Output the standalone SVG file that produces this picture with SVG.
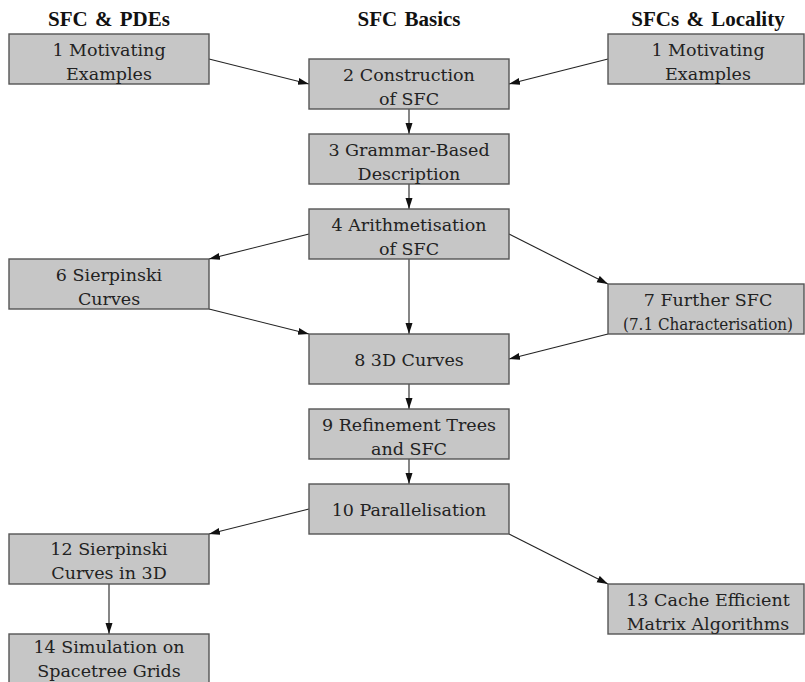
<svg xmlns="http://www.w3.org/2000/svg" width="805" height="682" viewBox="0 0 805 682">
<defs>
<style>
.box{fill:#c6c6c6;stroke:#555;stroke-width:1.4}
.lbl{font-family:"DejaVu Serif",serif;font-size:17.5px;fill:#222;text-anchor:middle}
.hdr{font-family:"Liberation Serif",serif;font-size:21px;font-weight:bold;fill:#111;text-anchor:middle;word-spacing:2px}
.e{stroke:#222;stroke-width:1.1;fill:none;marker-end:url(#arr)}
</style>
<marker id="arr" markerUnits="userSpaceOnUse" markerWidth="12" markerHeight="10" refX="11" refY="4" orient="auto">
<path d="M0,0.5 L11,4 L0,7.5 Z" fill="#111"/>
</marker>
</defs>
<rect width="805" height="682" fill="#fff"/>
<g id="headers">
<text class="hdr" x="109" y="26">SFC &amp; PDEs</text>
<text class="hdr" x="409" y="26">SFC Basics</text>
<text class="hdr" x="708" y="26">SFCs &amp; Locality</text>
</g>
<g id="edges">
<line class="e" x1="209" y1="59" x2="309" y2="84"/>
<line class="e" x1="608" y1="59" x2="509" y2="84"/>
<line class="e" x1="409" y1="109" x2="409" y2="134"/>
<line class="e" x1="409" y1="184" x2="409" y2="209"/>
<line class="e" x1="309" y1="234" x2="209" y2="259"/>
<line class="e" x1="509" y1="234" x2="608" y2="284"/>
<line class="e" x1="409" y1="259" x2="409" y2="334"/>
<line class="e" x1="209" y1="309" x2="309" y2="334"/>
<line class="e" x1="608" y1="334" x2="509" y2="359"/>
<line class="e" x1="409" y1="384" x2="409" y2="409"/>
<line class="e" x1="409" y1="459" x2="409" y2="484"/>
<line class="e" x1="309" y1="509" x2="209" y2="534"/>
<line class="e" x1="509" y1="534" x2="608" y2="584"/>
<line class="e" x1="109" y1="584" x2="109" y2="634"/>
</g>
<g id="n1a"><rect class="box" x="9" y="34" width="200" height="50"/><text class="lbl" x="109" y="56">1 Motivating</text><text class="lbl" x="109" y="80">Examples</text></g>
<g id="n1b"><rect class="box" x="608" y="34" width="196" height="50"/><text class="lbl" x="708" y="56">1 Motivating</text><text class="lbl" x="708" y="80">Examples</text></g>
<g id="n2"><rect class="box" x="309" y="59" width="200" height="50"/><text class="lbl" x="409" y="81">2 Construction</text><text class="lbl" x="409" y="105">of SFC</text></g>
<g id="n3"><rect class="box" x="309" y="134" width="200" height="50"/><text class="lbl" x="409" y="156">3 Grammar-Based</text><text class="lbl" x="409" y="180">Description</text></g>
<g id="n4"><rect class="box" x="309" y="209" width="200" height="50"/><text class="lbl" x="409" y="231">4 Arithmetisation</text><text class="lbl" x="409" y="255">of SFC</text></g>
<g id="n6"><rect class="box" x="9" y="259" width="200" height="50"/><text class="lbl" x="109" y="281">6 Sierpinski</text><text class="lbl" x="109" y="305">Curves</text></g>
<g id="n7"><rect class="box" x="608" y="284" width="196" height="50"/><text class="lbl" x="708" y="306">7 Further SFC</text><text class="lbl" x="708" y="330" textLength="170" lengthAdjust="spacingAndGlyphs">(7.1 Characterisation)</text></g>
<g id="n8"><rect class="box" x="309" y="334" width="200" height="50"/><text class="lbl" x="409" y="366">8 3D Curves</text></g>
<g id="n9"><rect class="box" x="309" y="409" width="200" height="50"/><text class="lbl" x="409" y="431">9 Refinement Trees</text><text class="lbl" x="409" y="455">and SFC</text></g>
<g id="n10"><rect class="box" x="309" y="484" width="200" height="50"/><text class="lbl" x="409" y="516">10 Parallelisation</text></g>
<g id="n12"><rect class="box" x="9" y="534" width="200" height="50"/><text class="lbl" x="109" y="555">12 Sierpinski</text><text class="lbl" x="109" y="579">Curves in 3D</text></g>
<g id="n13"><rect class="box" x="608" y="584" width="196" height="50"/><text class="lbl" x="708" y="606">13 Cache Efficient</text><text class="lbl" x="708" y="630">Matrix Algorithms</text></g>
<g id="n14"><rect class="box" x="9" y="634" width="200" height="50"/><text class="lbl" x="109" y="653">14 Simulation on</text><text class="lbl" x="109" y="677">Spacetree Grids</text></g>
</svg>
